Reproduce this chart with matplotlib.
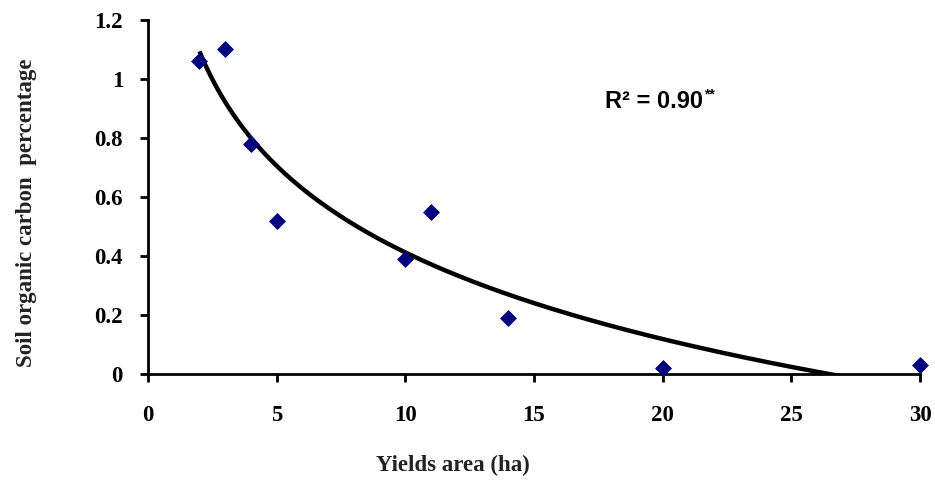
import numpy as np
import matplotlib
matplotlib.use("Agg")
import matplotlib.pyplot as plt

# Data
field_area = [2, 3, 4, 5, 10, 11, 14, 20, 30]
soc_pct = [1.06, 1.10, 0.78, 0.52, 0.39, 0.55, 0.19, 0.02, 0.03]
x_ticks = [0, 5, 10, 15, 20, 25, 30]
y_ticks = [0, 0.2, 0.4, 0.6, 0.8, 1, 1.2]
y_ticklabels = ["0", "0.2", "0.4", "0.6", "0.8", "1", "1.2"]
r2_main = "R² = 0.90"
r2_sig = "**"

fig = plt.figure(figsize=(9.35, 4.9), dpi=100)
ax = fig.add_axes([148/935, 1-374/490, (920-148)/935, (374-20)/490])

# Logarithmic trendline fitted to the data
xs = np.array(field_area, dtype=float)
ys = np.array(soc_pct, dtype=float)
b, a = np.polyfit(np.log(xs), ys, 1)
xf = np.linspace(xs.min(), xs.max(), 400)
ax.plot(xf, a + b*np.log(xf), color="black", lw=3.2, zorder=2, solid_capstyle="butt")

ax.scatter(field_area, soc_pct, marker="D", s=75, color="#00007f", zorder=3, clip_on=False, linewidths=0)

ax.set_xlim(0, 30)
ax.set_ylim(0, 1.2)
ax.set_xticks(x_ticks)
ax.set_yticks(y_ticks)
ax.set_yticklabels(y_ticklabels)
for s in ["top", "right"]:
    ax.spines[s].set_visible(False)
for s in ["left", "bottom"]:
    ax.spines[s].set_linewidth(2)
ax.tick_params(direction="out", length=6, width=2, pad=12)
for lab in ax.get_xticklabels() + ax.get_yticklabels():
    lab.set_fontfamily("Liberation Serif")
    lab.set_fontweight("bold")
    lab.set_fontsize(16.5)
ax.tick_params(axis="x", pad=16)

t = ax.text((605-148)/772, (374-101)/354, r2_main, transform=ax.transAxes, fontfamily="Liberation Sans",
            fontweight="bold", fontsize=17, ha="left", va="center")
ax.annotate(r2_sig, xy=(1, 0.8), xycoords=t, xytext=(1, 0), textcoords="offset points",
            fontfamily="Liberation Sans", fontweight="bold", fontsize=10, ha="left", va="center")

fig.text(453/935, 1-465/490, "Yields area (ha)", fontfamily="Liberation Serif",
         fontweight="bold", fontsize=16.5, ha="center", va="center", color="#222222")
fig.text(27/935, 1-213/490, "Soil organic carbon  percentage", fontfamily="Liberation Serif",
         fontweight="bold", fontsize=16.5, ha="center", va="center", rotation=90, color="#222222")

fig.savefig("out.png", dpi=100)
